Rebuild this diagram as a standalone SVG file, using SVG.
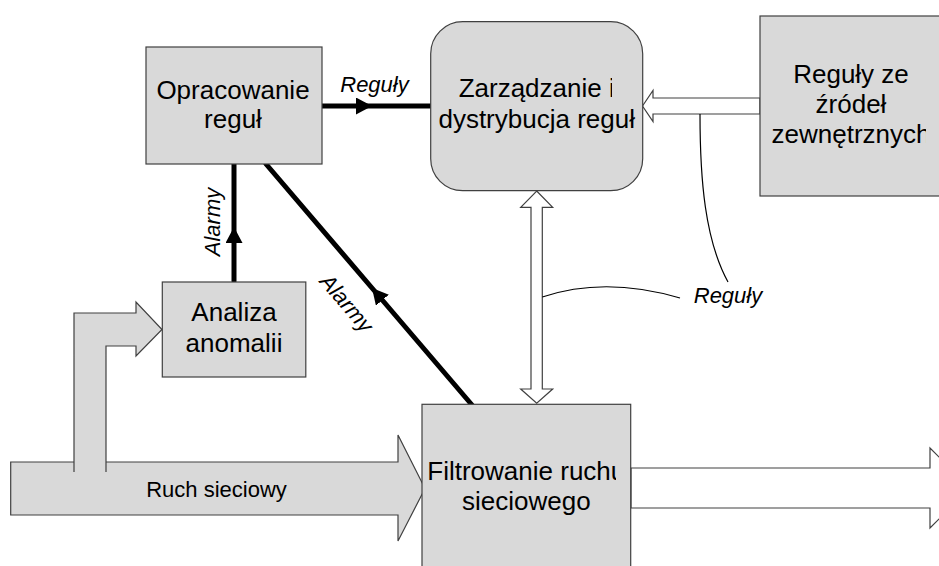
<svg xmlns="http://www.w3.org/2000/svg" width="939" height="566" viewBox="0 0 939 566">
<style>
.box{fill:#d9d9d9;stroke:#404040;stroke-width:1.2}
.t{font-family:"Liberation Sans",Arial,sans-serif;font-size:26px;fill:#000;text-anchor:middle}
.lbl{font-family:"Liberation Sans",Arial,sans-serif;font-size:22px;font-style:italic;fill:#000;text-anchor:middle}
.bold{fill:none;stroke:#000;stroke-width:5;stroke-linecap:round;marker-mid:url(#tri)}
.hollow{fill:#fff;stroke:#404040;stroke-width:1.2}
.block{fill:#d9d9d9;stroke:#404040;stroke-width:1.2}
.thin{fill:none;stroke:#000;stroke-width:1.2}
</style>
<defs>
<marker id="tri" viewBox="0 0 16 17" refX="16" refY="8.5" markerWidth="16" markerHeight="17" markerUnits="userSpaceOnUse" orient="auto">
<path d="M0,0 L16,8.5 L0,17 z" fill="#000"/>
</marker>
<clipPath id="cZ"><rect x="430" y="60" width="182" height="45"/></clipPath>
<clipPath id="cF"><rect x="422" y="450" width="194" height="80"/></clipPath>
<clipPath id="cE"><rect x="760" y="50" width="166" height="110"/></clipPath>
</defs>
<g id="connectors">
<polygon class="block" points="10.7,462 398,462 398,435 425,488.5 398,541 398,515 10.7,515"/>
<polygon points="74,472 74,313 136,313 136,302 162,329.5 136,356 136,346 106,346 106,472" fill="#d9d9d9" stroke="none"/>
<path class="thin" style="stroke:#404040" d="M74,472 L74,313 L136,313 L136,302 L162,329.5 L136,356 L136,346 L106,346 L106,472"/>
<text class="t" style="font-size:22px" x="216.5" y="497">Ruch sieciowy</text>
<polygon class="hollow" points="631,468 930,468 930,448 970,488 930,528 930,508 631,508"/>
<polygon class="hollow" points="536.7,191 552.7,207.3 542.3,207.3 542.3,389 552.7,389 536.7,403.3 520.7,389 531,389 531,207.3 520.7,207.3"/>
<polygon class="hollow" points="642.5,106 653,90.5 653,98 760,98 760,114 653,114 653,121.5"/>
<path class="bold" d="M320,106 L372,106 L431,106"/>
<text class="lbl" x="374.5" y="92">Reguły</text>
<path class="bold" d="M234,281 L234,227 L234,164"/>
<text class="lbl" transform="translate(220,222) rotate(-90)">Alarmy</text>
<path class="bold" d="M472,405 L372,288 L266,164"/>
<text class="lbl" transform="translate(341,308) rotate(49.5)">Alarmy</text>
<path class="thin" d="M700,114 C700,180 705,240 728,282"/>
<path class="thin" d="M542.3,297 Q605,276 680,298"/>
<text class="lbl" x="728" y="303">Reguły</text>
</g>
<g id="opracowanie">
<rect class="box" x="146" y="47" width="176" height="117"/>
<text class="t" x="233" y="99">Opracowanie</text>
<text class="t" x="233" y="128">reguł</text>
</g>
<g id="zarzadzanie">
<rect class="box" x="430.7" y="21.7" width="212" height="169" rx="32" ry="32"/>
<text class="t" x="536.7" y="97" clip-path="url(#cZ)">Zarządzanie i</text>
<text class="t" x="536.7" y="128">dystrybucja reguł</text>
</g>
<g id="zrodla">
<rect class="box" x="760" y="16" width="185" height="180"/>
<g clip-path="url(#cE)">
<text class="t" x="851" y="83">Reguły ze</text>
<text class="t" x="851" y="113">źródeł</text>
<text class="t" x="851" y="143">zewnętrznych</text>
</g>
</g>
<g id="analiza">
<rect class="box" x="162.3" y="282" width="143.5" height="95"/>
<text class="t" x="234" y="321">Analiza</text>
<text class="t" x="234" y="352">anomalii</text>
</g>
<g id="filtrowanie">
<rect class="box" x="422" y="404.3" width="208.7" height="170"/>
<g clip-path="url(#cF)">
<text class="t" x="526.3" y="480">Filtrowanie ruchu</text>
<text class="t" x="526.3" y="510">sieciowego</text>
</g>
</g>
</svg>
